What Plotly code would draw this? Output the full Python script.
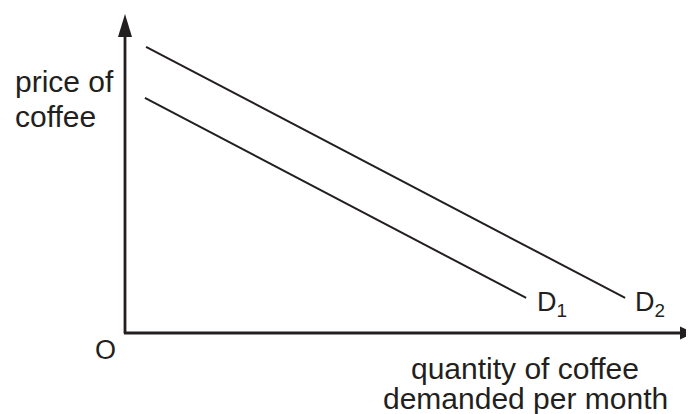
import plotly.graph_objects as go

# Demand curves (quantity, price) in chart units
d1_quantity = [0.35, 7.05]
d1_price = [7.37, 1.10]
d2_quantity = [0.37, 8.79]
d2_price = [8.97, 1.10]
curve_labels = ["D<sub>1</sub>", "D<sub>2</sub>"]
y_title_lines = ["price of", "coffee"]
x_title_lines = ["quantity of coffee", "demanded per month"]
origin_label = "O"
x_range = [0, 10]
y_range = [0, 10]

OFF = 8  # page body margin
W, H = 694 - OFF, 414 - OFF
ML, MR, MT, MB = 125 - OFF, 0, 14 - OFF, 414 - 333
PW, PH = W - ML - MR, H - MT - MB
INK = "#231f20"
FONT = "Liberation Sans, Arial, sans-serif"


def px(xp):
    """reference-screenshot pixel x -> paper fraction"""
    return (xp - OFF - ML) / PW


def py(yp):
    """reference-screenshot pixel y -> paper fraction"""
    return (H - MB - (yp - OFF)) / PH


fig = go.Figure()
fig.add_trace(go.Scatter(x=d1_quantity, y=d1_price, mode="lines",
                         line=dict(color=INK, width=2), hoverinfo="skip"))
fig.add_trace(go.Scatter(x=d2_quantity, y=d2_price, mode="lines",
                         line=dict(color=INK, width=2), hoverinfo="skip"))

shapes = [
    # y axis
    dict(type="line", xref="paper", yref="paper", x0=0, x1=0, y0=0, y1=py(30),
         line=dict(color=INK, width=2.8)),
    # x axis
    dict(type="line", xref="paper", yref="paper", x0=-0.002, x1=px(684), y0=0, y1=0,
         line=dict(color=INK, width=2.8)),
    # y arrowhead
    dict(type="path", xref="paper", yref="paper", xsizemode="pixel", ysizemode="pixel",
         xanchor=0, yanchor=1, path="M-7,-23 L7,-23 L0,0 Z",
         fillcolor=INK, line=dict(color=INK, width=0)),
    # x arrowhead
    dict(type="path", xref="paper", yref="paper", xsizemode="pixel", ysizemode="pixel",
         xanchor=1, yanchor=0, path="M-14,-6.5 L-14,6.5 L0,0 Z",
         fillcolor=INK, line=dict(color=INK, width=0)),
]

TS = 30
annots = [
    dict(text=y_title_lines[0], x=px(13), y=py(90 - 0.3 * TS), xanchor="left", size=TS),
    dict(text=y_title_lines[1], x=px(13), y=py(125 - 0.3 * TS), xanchor="left", size=TS),
    dict(text=x_title_lines[0], x=px(525), y=py(377 - 0.3 * TS), xanchor="center", size=TS),
    dict(text=x_title_lines[1], x=px(525), y=py(407 - 0.3 * TS), xanchor="center", size=TS),
    dict(text=origin_label, x=px(105.5), y=py(350), xanchor="center", size=27),
    dict(text=curve_labels[0], x=px(535), y=py(304), xanchor="left", size=27),
    dict(text=curve_labels[1], x=px(633), y=py(304), xanchor="left", size=27),
]
for a in annots:
    s = a.pop("size")
    a.update(showarrow=False, xref="paper", yref="paper", yanchor="middle",
             font=dict(family=FONT, size=s, color=INK))

fig.update_layout(
    width=W, height=H, margin=dict(l=ML, r=MR, t=MT, b=MB),
    paper_bgcolor="white", plot_bgcolor="white", showlegend=False,
    xaxis=dict(range=x_range, visible=False, fixedrange=True),
    yaxis=dict(range=y_range, visible=False, fixedrange=True),
    shapes=shapes, annotations=annots,
)
fig.write_html("out.html", config={"displayModeBar": False})
